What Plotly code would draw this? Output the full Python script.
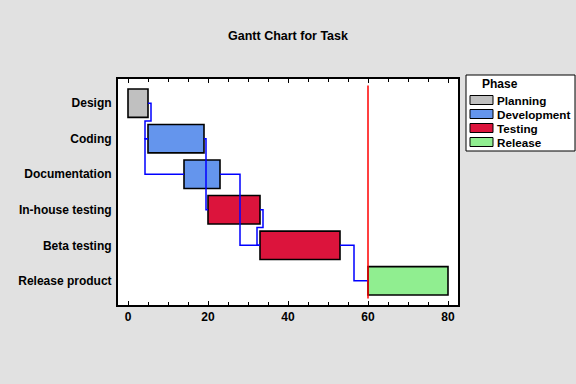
import plotly.graph_objects as go

# ---- data ----
tasks = ["Design", "Coding", "Documentation", "In-house testing", "Beta testing", "Release product"]
starts = [0, 5, 14, 20, 33, 60]
ends = [5, 19, 23, 33, 53, 80]
task_phase = ["Planning", "Development", "Development", "Testing", "Testing", "Release"]
phases = ["Planning", "Development", "Testing", "Release"]
phase_colors = ["#c0c0c0", "#6495ed", "#dc143c", "#90ee90"]
# dependencies: (source, target, type)  FS = finish-to-start, SS = start-to-start
deps = [("Design", "Coding", "FS"), ("Coding", "Documentation", "SS"),
        ("Coding", "In-house testing", "FS"), ("Documentation", "Beta testing", "FS"),
        ("In-house testing", "Beta testing", "FS"), ("Beta testing", "Release product", "FS")]
marker_x = 60
x_ticks = [0, 20, 40, 60, 80]

W, H = 576, 384
L, R, T, B = 118, 458, 79, 305
FONT = "Liberation Sans, Arial, sans-serif"
BG = "#e1e1e1"

fig = go.Figure()
cmap = dict(zip(phases, phase_colors))
rows = list(range(len(tasks)))

for ph in phases:
    idx = [i for i in rows if task_phase[i] == ph]
    fig.add_trace(go.Bar(
        y=[i for i in idx], x=[ends[i] - starts[i] for i in idx], base=[starts[i] for i in idx],
        orientation="h", width=0.8, name=ph, showlegend=False,
        marker=dict(color=cmap[ph], line=dict(color="black", width=1.6)),
    ))

# connector lines
d = 0.75
pos = {t: i for i, t in enumerate(tasks)}
for s, t, typ in deps:
    si, ti = pos[s], pos[t]
    if typ == "SS":
        xs = [starts[si], starts[si] - d, starts[si] - d, starts[ti]]
        ys = [si, si, ti, ti]
    elif starts[ti] > ends[si]:
        xm = (ends[si] + starts[ti]) / 2
        xs = [ends[si], xm, xm, starts[ti]]
        ys = [si, si, ti, ti]
    else:
        xs = [ends[si], ends[si] + d, ends[si] + d, starts[ti] - d, starts[ti] - d, starts[ti]]
        ys = [si, si, si + 0.5, si + 0.5, ti, ti]
    fig.add_trace(go.Scatter(x=xs, y=ys, mode="lines", showlegend=False,
                             line=dict(color="#0000ff", width=1.5), hoverinfo="skip"))

# red marker line
fig.add_trace(go.Scatter(x=[marker_x, marker_x], y=[-0.5, len(tasks) - 0.5], mode="lines",
                         showlegend=False, line=dict(color="#ff0000", width=1.5), hoverinfo="skip"))

def px_x(p):
    return (p - L) / (R - L)

def px_y(p):
    return (B - p) / (B - T)

shapes = [dict(type="rect", xref="paper", yref="paper",
               x0=px_x(466), x1=px_x(575), y0=px_y(151), y1=px_y(75),
               line=dict(color="black", width=1), fillcolor="white", layer="above")]
annotations = [dict(text="<b>Phase</b>", xref="paper", yref="paper", x=px_x(480), y=px_y(84),
                    xanchor="left", yanchor="middle", showarrow=False,
                    font=dict(family=FONT, size=12, color="black"))]
for k, ph in enumerate(phases):
    yc = 100 + 14 * k
    shapes.append(dict(type="rect", xref="paper", yref="paper",
                       x0=px_x(470), x1=px_x(493), y0=px_y(yc + 4.5), y1=px_y(yc - 4.5),
                       line=dict(color="black", width=1), fillcolor=cmap[ph], layer="above"))
    annotations.append(dict(text="<b>%s</b>" % ph, xref="paper", yref="paper", x=px_x(494.5), y=px_y(yc),
                            xanchor="left", yanchor="middle", showarrow=False,
                            font=dict(family=FONT, size=11.7, color="black")))

fig.update_layout(
    width=W, height=H, autosize=False,
    margin=dict(l=L, r=W - R, t=T, b=H - B, pad=0),
    paper_bgcolor=BG, plot_bgcolor="white",
    barmode="overlay", showlegend=False,
    title=dict(text="<b>Gantt Chart for Task</b>", x=0.5, xanchor="center", y=1 - 35.5 / H,
               yanchor="middle", font=dict(family=FONT, size=12.5, color="black")),
    font=dict(family=FONT, size=12, color="black"),
    shapes=shapes, annotations=annotations,
)
fig.update_xaxes(range=[-2.5, 82.5], tickvals=x_ticks, ticktext=["<b>%d</b>" % v for v in x_ticks],
                 ticks="inside", ticklen=4, tickwidth=1, tickcolor="black",
                 minor=dict(dtick=5, tick0=0, ticks="inside", ticklen=3, tickcolor="black", showgrid=False),
                 showline=True, linecolor="black", linewidth=2, mirror="ticks",
                 showgrid=False, zeroline=False, tickfont=dict(family=FONT, size=12, color="black"))
fig.update_yaxes(range=[len(tasks) - 0.32, -0.68], tickvals=rows,
                 ticktext=["<b>%s</b>" % t for t in tasks], ticks="",
                 showline=True, linecolor="black", linewidth=2, mirror=True,
                 showgrid=False, zeroline=False, ticklabelstandoff=2,
                 tickfont=dict(family=FONT, size=12, color="black"))

fig.write_html("out.html", config={"displayModeBar": False},
               post_script="document.body.style.margin='0';document.body.style.overflow='hidden';")
